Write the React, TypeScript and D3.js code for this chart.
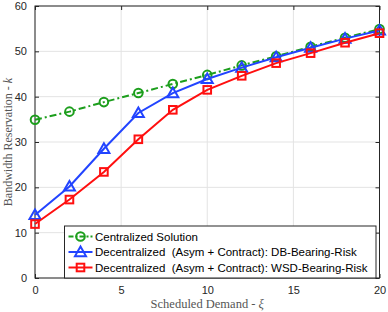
import { useEffect, useRef } from "react";
import * as d3 from "d3";

const demand = [0, 2, 4, 6, 8, 10, 12, 14, 16, 18, 20];
const centralized = [34.9, 36.7, 38.8, 40.8, 42.8, 44.8, 46.9, 48.9, 51.0, 53.0, 54.9];
const dbRisk = [13.9, 20.2, 28.5, 36.4, 40.8, 43.9, 46.4, 48.7, 50.8, 52.8, 54.6];
const wsdRisk = [11.9, 17.3, 23.4, 30.6, 37.1, 41.5, 44.6, 47.4, 49.6, 51.9, 54.0];
const xTicks = [0, 5, 10, 15, 20];
const yTicks = [0, 10, 20, 30, 40, 50, 60];
const legendLabels = [
  "Centralized Solution",
  "Decentralized  (Asym + Contract): DB-Bearing-Risk",
  "Decentralized  (Asym + Contract): WSD-Bearing-Risk",
];

export default function App() {
  const svgRef = useRef<SVGSVGElement>(null);

  useEffect(() => {
    if (!svgRef.current) return;
    const W = 388, H = 312;
    const margin = { top: 6, right: 8.5, bottom: 34, left: 35 };
    const width = W - margin.left - margin.right;
    const height = H - margin.top - margin.bottom;

    const svg = d3.select(svgRef.current);
    svg.selectAll("*").remove();
    svg.attr("width", W).attr("height", H);

    const g = svg.append("g").attr("transform", `translate(${margin.left},${margin.top})`);

    const x = d3.scaleLinear().domain([0, 20]).range([0, width]);
    const y = d3.scaleLinear().domain([0, 60]).range([height, 0]);

    g.append("rect").attr("width", width).attr("height", height).attr("fill", "#fff");

    // grid
    g.selectAll(".gx").data(xTicks).enter().append("line")
      .attr("x1", d => x(d)).attr("x2", d => x(d))
      .attr("y1", 0).attr("y2", height)
      .attr("stroke", "#e3e3e3").attr("stroke-width", 1);
    g.selectAll(".gy").data(yTicks).enter().append("line")
      .attr("y1", d => y(d)).attr("y2", d => y(d))
      .attr("x1", 0).attr("x2", width)
      .attr("stroke", "#e3e3e3").attr("stroke-width", 1);

    const tickStyle = (sel: any) => {
      sel.select(".domain").remove();
      sel.selectAll("line").attr("stroke", "#262626");
      sel.selectAll("text").attr("fill", "#262626").attr("font-size", 11)
        .attr("font-family", "Liberation Sans, Arial, sans-serif");
    };

    g.append("g").attr("transform", `translate(0,${height})`)
      .call(d3.axisBottom(x).tickValues(xTicks).tickSize(-4).tickPadding(8).tickFormat(d3.format("d")))
      .call(tickStyle);
    g.append("g")
      .call(d3.axisTop(x).tickValues(xTicks).tickSize(-4).tickFormat(() => ""))
      .call(tickStyle);
    g.append("g")
      .call(d3.axisLeft(y).tickValues(yTicks).tickSize(-4).tickPadding(8).tickFormat(d3.format("d")))
      .call(tickStyle);
    g.append("g").attr("transform", `translate(${width},0)`)
      .call(d3.axisRight(y).tickValues(yTicks).tickSize(-4).tickFormat(() => ""))
      .call(tickStyle);

    g.append("rect").attr("width", width).attr("height", height)
      .attr("fill", "none").attr("stroke", "#262626").attr("stroke-width", 1);

    const series = [
      { name: legendLabels[0], values: centralized, color: "#1c9e1c", dash: "7,3,2,3", marker: "circle" },
      { name: legendLabels[1], values: dbRisk, color: "#2244ff", dash: null, marker: "triangle" },
      { name: legendLabels[2], values: wsdRisk, color: "#ff0f0f", dash: null, marker: "square" },
    ];

    const line = d3.line<number>().x((_, i) => x(demand[i])).y(d => y(d));

    const drawMarker = (sel: any, kind: string, color: string, cx: number, cy: number) => {
      if (kind === "circle") {
        sel.append("circle").attr("cx", cx).attr("cy", cy).attr("r", 4.3)
          .attr("fill", "none").attr("stroke", color).attr("stroke-width", 2);
      } else if (kind === "triangle") {
        const s = 5.5;
        sel.append("path")
          .attr("d", `M${cx},${cy - s} L${cx + s},${cy + s * 0.75} L${cx - s},${cy + s * 0.75} Z`)
          .attr("fill", "none").attr("stroke", color).attr("stroke-width", 2);
      } else {
        const s = 3.8;
        sel.append("rect").attr("x", cx - s).attr("y", cy - s).attr("width", 2 * s).attr("height", 2 * s)
          .attr("fill", "none").attr("stroke", color).attr("stroke-width", 2);
      }
    };

    series.forEach(s => {
      g.append("path").datum(s.values)
        .attr("fill", "none").attr("stroke", s.color).attr("stroke-width", 2)
        .attr("stroke-dasharray", s.dash)
        .attr("d", line);
      const mg = g.append("g");
      s.values.forEach((v, i) => drawMarker(mg, s.marker, s.color, x(demand[i]), y(v)));
    });

    // legend
    const lx = 64.5 - margin.left, ly = 226 - margin.top;
    const lw = 376 - 64.5, lh = 278 - 226;
    const lg = g.append("g").attr("transform", `translate(${lx},${ly})`);
    lg.append("rect").attr("width", lw).attr("height", lh)
      .attr("fill", "#fff").attr("stroke", "#262626").attr("stroke-width", 1);
    series.forEach((s, i) => {
      const ry = 10.5 + i * 15.5;
      lg.append("line").attr("x1", 4).attr("x2", 28).attr("y1", ry).attr("y2", ry)
        .attr("stroke", s.color).attr("stroke-width", 2).attr("stroke-dasharray", s.dash ? "5,2,2,2" : null);
      drawMarker(lg, s.marker, s.color, 16, ry);
      lg.append("text").attr("x", 30.5).attr("y", ry).attr("dy", "0.35em")
        .attr("font-size", 11.5).attr("fill", "#000")
        .attr("font-family", "Liberation Sans, Arial, sans-serif")
        .style("white-space", "pre")
        .text(s.name);
    });

    // axis labels
    const xl = g.append("text").attr("x", width / 2).attr("y", height + 30)
      .attr("text-anchor", "middle").attr("fill", "#555").attr("font-size", 12.5)
      .attr("font-family", "Liberation Serif, serif");
    xl.append("tspan").text("Scheduled Demand - ");
    xl.append("tspan").attr("font-style", "italic").text("ξ");

    const yl = g.append("text").attr("transform", `translate(${-23},${height / 2}) rotate(-90)`)
      .attr("text-anchor", "middle").attr("fill", "#555").attr("font-size", 12)
      .attr("font-family", "Liberation Serif, serif");
    yl.append("tspan").text("Bandwidth Reservation - ");
    yl.append("tspan").attr("font-style", "italic").text("k");
  }, []);

  return (
    <div style={{ position: "absolute", left: 0, top: 0 }}>
      <svg ref={svgRef}></svg>
    </div>
  );
}
